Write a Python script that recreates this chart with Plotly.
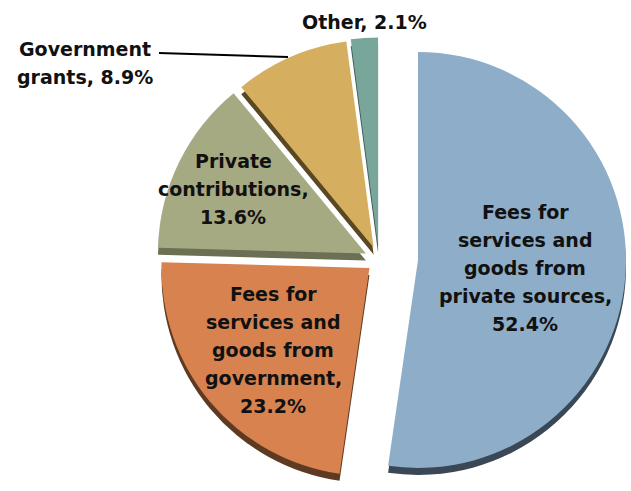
import plotly.graph_objects as go

# Revenue sources, clockwise from 12 o'clock
names = [
    "Fees for services and goods from private sources",
    "Fees for services and goods from government",
    "Private contributions",
    "Government grants",
    "Other",
]
label_lines = [
    "Fees for<br>services and<br>goods from<br>private sources,",
    "Fees for<br>services and<br>goods from<br>government,",
    "Private<br>contributions,",
    "Government<br>grants,",
    "Other,",
]
value_breaks = ["<br>", "<br>", "<br>", " ", " "]
shares = [52.4, 23.2, 13.6, 8.9, 2.1]

face_colors = ["#8EADC8", "#D7824F", "#A5AA82", "#D5AF5F", "#79A69B"]
side_colors = ["#3A4754", "#5E3A22", "#6B7054", "#5A4823", "#3E5A53"]
pulls = [0.0, 0.06, 0.07, 0.065, 0.07]

W, H = 631, 491
CX, CY, R = 379, 260, 208      # pie centre and radius in px
BIG_SHIFT = 39                  # horizontal offset of the largest slice
DEPTH = 7                       # thickness of the 3-D rim
CLEAR = "rgba(0,0,0,0)"
FONT = dict(family="DejaVu Sans", size=19, color="#111111", weight="bold")
LINE_GAP = 28


def domain_for(cx, cy, max_pull):
    half = R * (1 + max_pull)
    return dict(x=[(cx - half) / W, (cx + half) / W],
                y=[1 - (cy + half) / H, 1 - (cy - half) / H])


def pie(colors, pull, cx, cy):
    return go.Pie(
        labels=names, values=shares, sort=False, direction="clockwise",
        rotation=0, pull=pull, textinfo="none", hoverinfo="skip",
        showlegend=False, marker=dict(colors=colors, line=dict(width=0)),
        domain=domain_for(cx, cy, max(pull)),
    )


def big_only(cols):
    return [cols[0]] + [CLEAR] * 4


def rest_only(cols):
    return [CLEAR] + cols[1:]


fig = go.Figure()
# rim (drawn first, slightly lower)
fig.add_trace(pie(big_only(side_colors), [0] * 5, CX + BIG_SHIFT, CY + DEPTH))
fig.add_trace(pie(rest_only(side_colors), pulls, CX, CY + DEPTH))
# top faces
fig.add_trace(pie(big_only(face_colors), [0] * 5, CX + BIG_SHIFT, CY))
fig.add_trace(pie(rest_only(face_colors), pulls, CX, CY))

# label blocks: centre of each block in px, one annotation per text line
label_pos = [(525, 268), (273, 350), (233, 189), (85, 63), (364, 22)]
for (x, y), text, sep, v in zip(label_pos, label_lines, value_breaks, shares):
    rows = f"{text}{sep}{v}%".split("<br>")
    top = y - LINE_GAP * (len(rows) - 1) / 2
    for i, row in enumerate(rows):
        fig.add_annotation(x=x / W, y=1 - (top + i * LINE_GAP) / H,
                           xref="paper", yref="paper", text=row,
                           showarrow=False, font=FONT,
                           xanchor="center", yanchor="middle")

# leader line for the small outside label
fig.add_shape(type="line", xref="paper", yref="paper",
              x0=159 / W, y0=1 - 53 / H, x1=288 / W, y1=1 - 57 / H,
              line=dict(color="black", width=2))

fig.update_layout(width=W, height=H, margin=dict(l=0, r=0, t=0, b=0),
                  paper_bgcolor="white", plot_bgcolor="white")
fig.write_html("out.html")
